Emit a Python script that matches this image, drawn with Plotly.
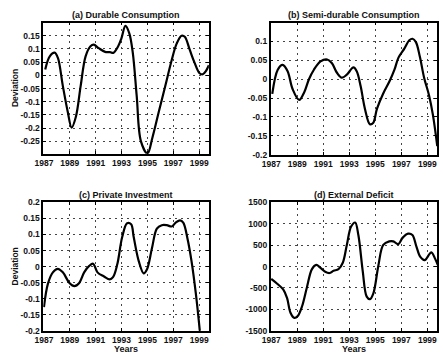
import plotly.graph_objects as go

# ---------------- data ----------------
years_a = [1987.1, 1987.45, 1987.83, 1988.08, 1988.46, 1988.84, 1989.14, 1989.47, 1989.84, 1990.22,
           1990.6, 1990.85, 1991.23, 1991.73, 1992.1, 1992.36, 1992.74, 1992.99, 1993.3, 1993.6,
           1993.87, 1994.17, 1994.5, 1995.0, 1995.38, 1995.88, 1996.38, 1996.89, 1997.26, 1997.64,
           1997.89, 1998.27, 1998.65, 1999.03, 1999.28, 1999.53, 1999.75]
durable = [0.022, 0.072, 0.086, 0.066, -0.04, -0.138, -0.198, -0.157, -0.04, 0.072,
           0.11, 0.116, 0.103, 0.089, 0.088, 0.085, 0.11, 0.14, 0.187, 0.159,
           0.085, -0.077, -0.25, -0.296, -0.237, -0.138, -0.04, 0.06, 0.12, 0.15,
           0.146, 0.097, 0.047, 0.008, 0.004, 0.017, 0.038]

years_b = [1987.08, 1987.5, 1987.88, 1988.26, 1988.64, 1989.15, 1989.53, 1989.9, 1990.28, 1990.79,
           1991.3, 1991.67, 1992.05, 1992.43, 1992.81, 1993.32, 1993.57, 1993.87, 1994.2, 1994.58,
           1994.83, 1995.13, 1995.59, 1996.1, 1996.47, 1996.78, 1997.23, 1997.61, 1997.86, 1998.12,
           1998.42, 1998.75, 1999.13, 1999.43, 1999.76]
semidurable = [-0.039, 0.025, 0.038, 0.021, -0.026, -0.055, -0.035, 0.0, 0.025, 0.047,
               0.052, 0.042, 0.017, 0.004, 0.012, 0.031, 0.021, -0.018, -0.078, -0.119,
               -0.116, -0.078, -0.039, -0.005, 0.025, 0.057, 0.081, 0.103, 0.107, 0.098,
               0.06, 0.004, -0.043, -0.095, -0.177]

years_c = [1987.0, 1987.31, 1987.69, 1988.07, 1988.46, 1988.97, 1989.35, 1989.73, 1990.11, 1990.5,
           1990.8, 1991.14, 1991.65, 1992.08, 1992.34, 1992.67, 1993.05, 1993.43, 1993.74, 1993.94,
           1994.33, 1994.71, 1994.97, 1995.35, 1995.73, 1996.11, 1996.5, 1996.88, 1997.19, 1997.52,
           1997.77, 1998.1, 1998.41, 1998.74, 1999.05, 1999.3]
investment = [-0.126, -0.053, -0.018, -0.007, -0.018, -0.051, -0.061, -0.051, -0.018, 0.002,
              0.009, -0.018, -0.031, -0.04, -0.033, 0.007, 0.092, 0.135, 0.132, 0.092,
              0.017, -0.021, -0.008, 0.057, 0.118, 0.129, 0.129, 0.125, 0.137, 0.144,
              0.137, 0.087, 0.017, -0.083, -0.2, -0.31]

years_d = [1987.0, 1987.46, 1987.92, 1988.22, 1988.48, 1988.78, 1989.04, 1989.37, 1989.75, 1990.13,
           1990.46, 1990.77, 1991.15, 1991.48, 1991.79, 1992.17, 1992.5, 1992.81, 1993.14, 1993.45,
           1993.7, 1994.03, 1994.34, 1994.59, 1994.85, 1995.23, 1995.61, 1996.07, 1996.38, 1996.76,
           1997.09, 1997.52, 1997.85, 1998.16, 1998.46, 1998.79, 1999.18, 1999.33, 1999.6, 1999.8]
deficit = [-286, -400, -535, -739, -1078, -1200, -1153, -927, -475, -60,
           38, -23, -120, -150, -98, -60, 90, 505, 935, 1030,
           731, -98, -701, -760, -626, 15, 505, 590, 590, 525,
           671, 770, 740, 467, 226, 150, 300, 330, 180, 40]

year_ticks = [1987, 1989, 1991, 1993, 1995, 1997, 1999]
ticks_a = [-0.25, -0.2, -0.15, -0.1, -0.05, 0, 0.05, 0.1, 0.15]
ticks_b = [-0.2, -0.15, -0.1, -0.05, 0, 0.05, 0.1]
ticks_c = [-0.2, -0.15, -0.1, -0.05, 0, 0.05, 0.1, 0.15, 0.2]
ticks_d = [-1500, -1000, -500, 0, 500, 1000, 1500]

titles = ["(a) Durable Consumption", "(b) Semi-durable Consumption",
          "(c) Private Investment", "(d) External Deficit"]

# ---------------- figure ----------------
W, H = 443, 363
FONT = "Liberation Sans, Arial, sans-serif"

def fx(p):
    return p / W

def fy(p):
    return 1 - p / H

panels = [
    dict(x=(35, 204), y=(18, 153), yr=(-0.297, 0.2), yt=ticks_a, xs=years_a, ys=durable),
    dict(x=(267, 437), y=(18, 154), yr=(-0.2, 0.15), yt=ticks_b, xs=years_b, ys=semidurable),
    dict(x=(35, 204), y=(203, 335), yr=(-0.2, 0.2), yt=ticks_c, xs=years_c, ys=investment),
    dict(x=(267, 437), y=(203, 335), yr=(-1500, 1500), yt=ticks_d, xs=years_d, ys=deficit),
]

fig = go.Figure()
layout = dict(
    width=W, height=H, margin=dict(l=0, r=0, t=0, b=0),
    paper_bgcolor="white", plot_bgcolor="white", showlegend=False,
    font=dict(family=FONT, size=8, color="black"),
)
annotations = []

for i, p in enumerate(panels):
    n = "" if i == 0 else str(i + 1)
    xa, ya = "xaxis" + n, "yaxis" + n
    fig.add_trace(go.Scatter(
        x=p["xs"], y=p["ys"], mode="lines", xaxis="x" + n, yaxis="y" + n,
        line=dict(color="black", width=2.2, shape="spline", smoothing=1.0),
        hoverinfo="skip"))
    common = dict(showline=True, linecolor="black", linewidth=1.5, mirror="ticks",
                  ticks="inside", ticklen=3, tickcolor="black",
                  showgrid=True, gridcolor="#444", gridwidth=1, griddash="2px,4px",
                  zeroline=False, tickfont=dict(family=FONT, size=8.5, color="#111", weight="bold"))
    layout[xa] = dict(domain=[fx(p["x"][0]), fx(p["x"][1])], range=[1986.95, 1999.75],
                      tickvals=year_ticks, ticktext=[str(t) for t in year_ticks],
                      anchor="y" + n, **common)
    layout[ya] = dict(domain=[fy(p["y"][1]), fy(p["y"][0])], range=list(p["yr"]),
                      tickvals=p["yt"], ticktext=[f"{v:g}" for v in p["yt"]],
                      anchor="x" + n, **common)
    cx = (p["x"][0] + p["x"][1]) / 2
    annotations.append(dict(text="<b>" + titles[i] + "</b>", x=fx(cx), y=fy(p["y"][0] - 7.5),
                            xref="paper", yref="paper", showarrow=False,
                            xanchor="center", yanchor="middle",
                            font=dict(family=FONT, size=9, color="#111")))
    if i in (0, 2):
        annotations.append(dict(text="<b>Deviation</b>", x=fx(6), y=fy((p["y"][0] + p["y"][1]) / 2),
                                xref="paper", yref="paper", showarrow=False, textangle=-90,
                                xanchor="center", yanchor="middle",
                                font=dict(family=FONT, size=8.5, color="#111")))
    if i in (2, 3):
        annotations.append(dict(text="<b>Years</b>", x=fx(cx), y=fy(354),
                                xref="paper", yref="paper", showarrow=False,
                                xanchor="center", yanchor="middle",
                                font=dict(family=FONT, size=9, color="#111")))

layout["annotations"] = annotations
fig.update_layout(**layout)
fig.write_html("out.html")
